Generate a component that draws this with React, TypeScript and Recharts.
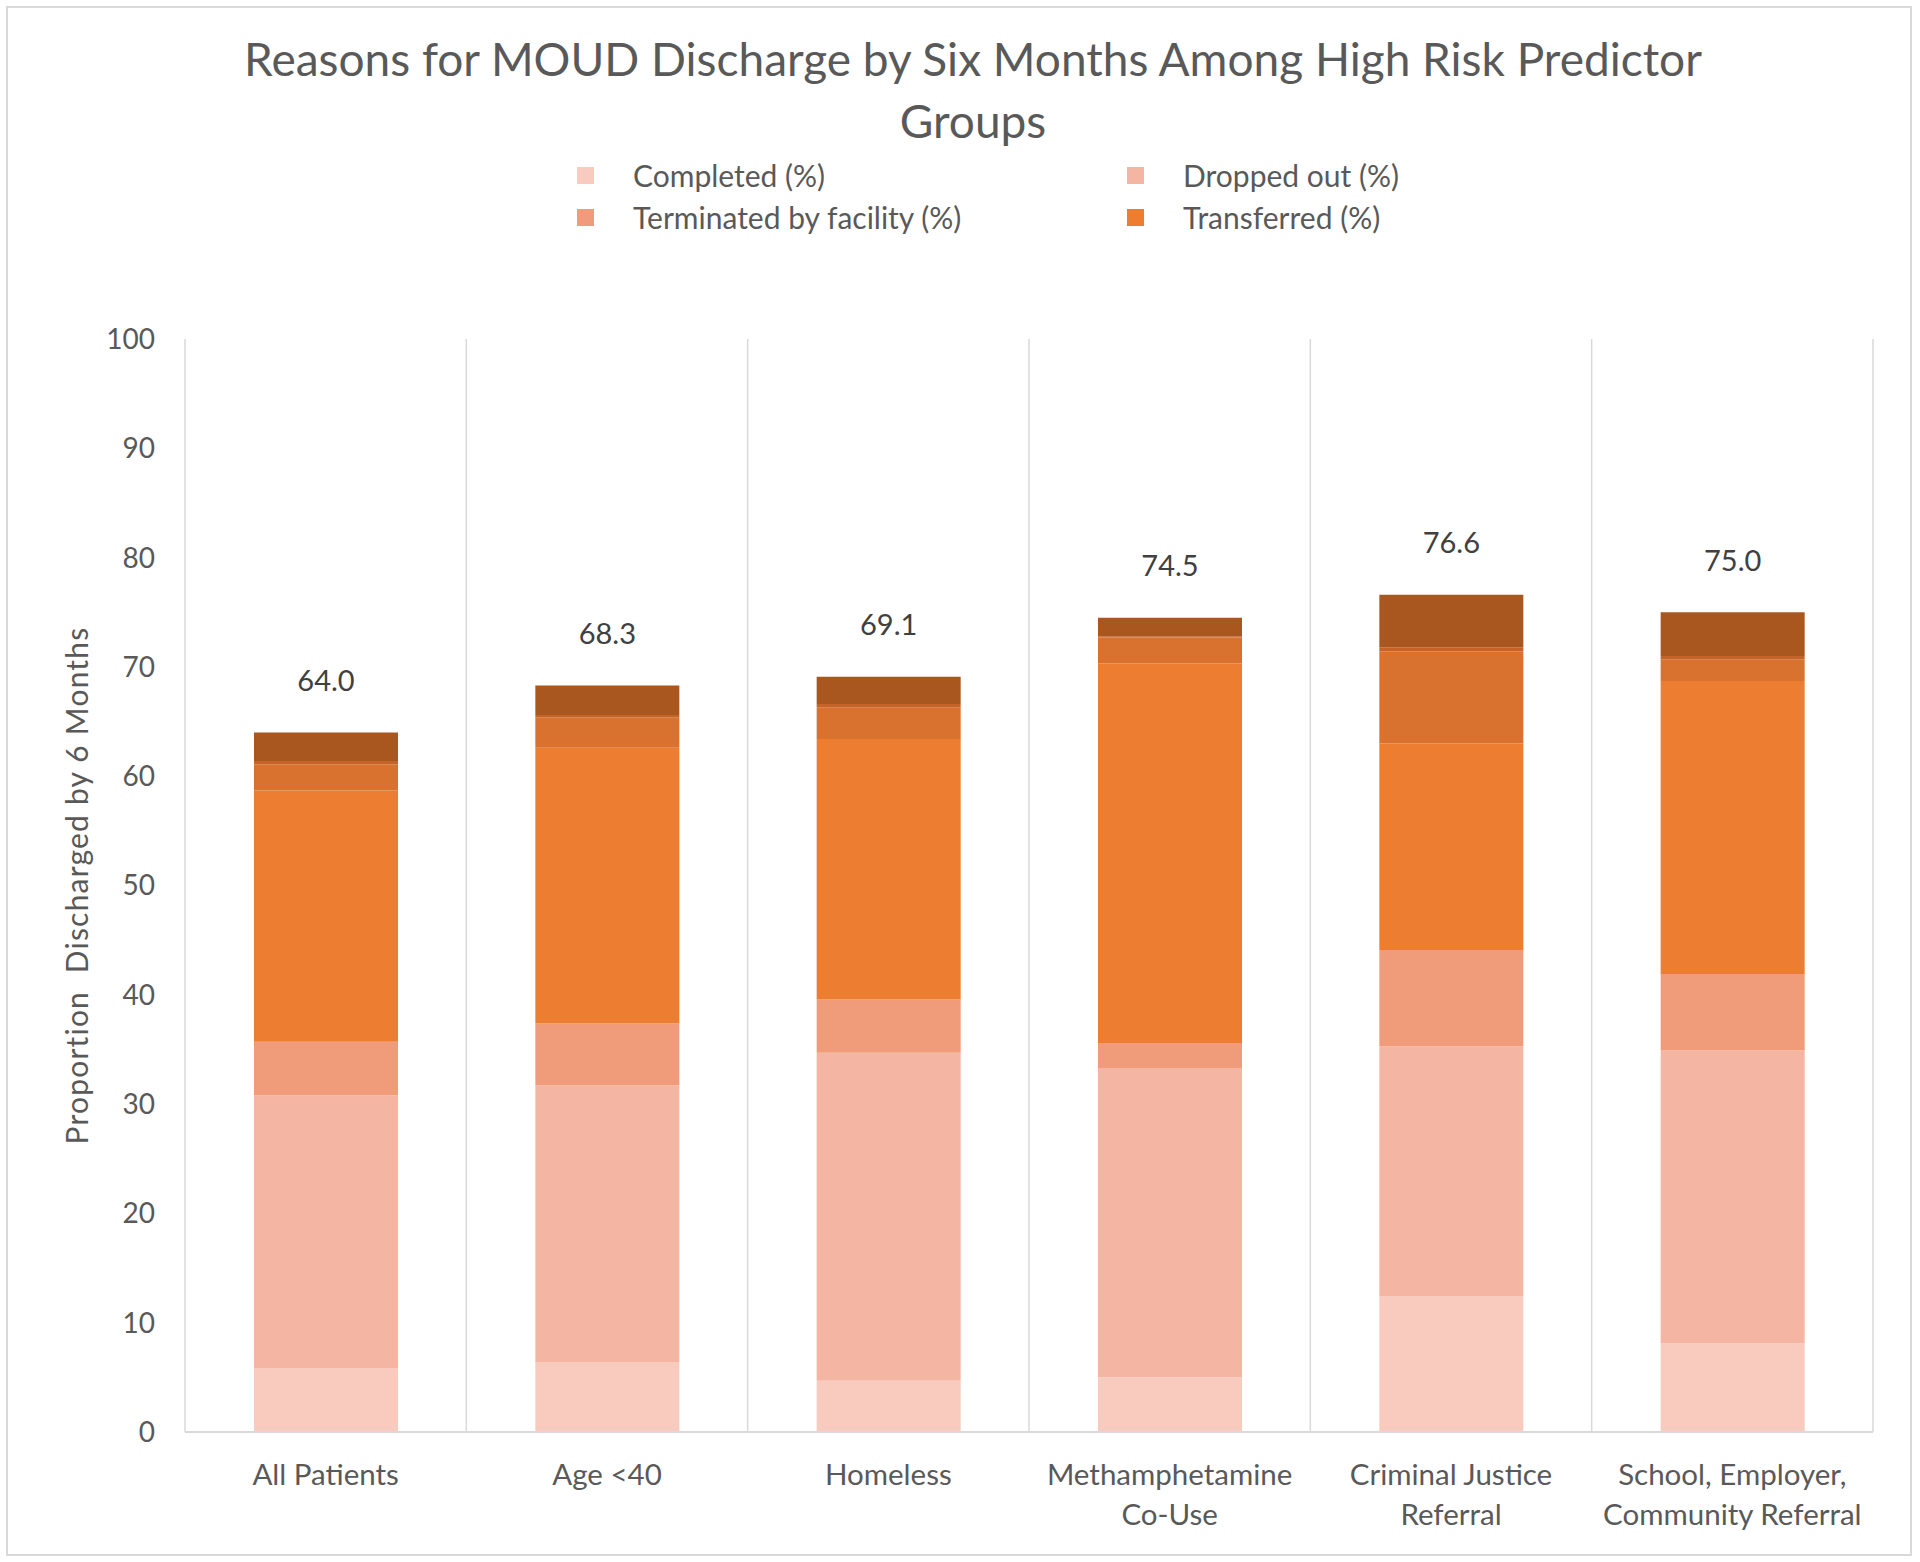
import React from 'react';
import { BarChart, Bar, XAxis, YAxis, CartesianGrid, Legend, LabelList } from 'recharts';

const categories = [
  'All Patients',
  'Age <40',
  'Homeless',
  'Methamphetamine\nCo-Use',
  'Criminal Justice\nReferral',
  'School, Employer,\nCommunity Referral',
];
const completed = [5.8, 6.4, 4.7, 5.0, 12.4, 8.1];
const droppedOut = [25.0, 25.3, 30.0, 28.3, 22.9, 26.8];
const terminated = [4.9, 5.7, 4.9, 2.3, 8.8, 7.0];
const transferred = [23.0, 25.2, 23.8, 34.7, 18.9, 26.8];
const incarcerated = [2.4, 2.8, 2.9, 2.4, 8.4, 2.0];
const deceased = [0.3, 0.2, 0.3, 0.1, 0.4, 0.3];
const other = [2.6, 2.7, 2.5, 1.7, 4.8, 4.0];
const totals = [64.0, 68.3, 69.1, 74.5, 76.6, 75.0];
const yTicks = [0, 10, 20, 30, 40, 50, 60, 70, 80, 90, 100];

const data = categories.map((c, i) => ({
  name: c,
  completed: completed[i],
  droppedOut: droppedOut[i],
  terminated: terminated[i],
  transferred: transferred[i],
  incarcerated: incarcerated[i],
  deceased: deceased[i],
  other: other[i],
  total: totals[i],
}));

const FONT = 'Lato, "Open Sans", sans-serif';
const TEXT = '#595959';

const XTick = (props: any) => {
  const { x, y, payload } = props;
  const lines = String(payload.value).split('\n');
  return (
    <text x={x} y={y} textAnchor="middle" fill={TEXT} fontSize={29.5} fontFamily={FONT}>
      {lines.map((l, i) => (
        <tspan key={i} x={x} dy={i === 0 ? 53 : 40}>
          {l}
        </tspan>
      ))}
    </text>
  );
};

const YLabel = (props: any) => {
  const vb = props.viewBox || {};
  const cy = vb.y + vb.height / 2;
  const cx = 68;
  return (
    <text
      x={cx}
      y={cy}
      transform={`rotate(-90, ${cx}, ${cy})`}
      textAnchor="middle"
      dominantBaseline="central"
      fill={TEXT}
      fontSize={30}
      fontFamily={FONT}
      style={{ whiteSpace: 'pre', letterSpacing: 1.2 }}
    >
      {'Proportion  Discharged by 6 Months'}
    </text>
  );
};

const TotalLabel = (props: any) => {
  const { x, y, width, value } = props;
  return (
    <text
      x={Number(x) + Number(width) / 2}
      y={Number(y) - 53}
      textAnchor="middle"
      dominantBaseline="central"
      fill="#404040"
      fontSize={29}
      fontFamily={FONT}
    >
      {Number(value).toFixed(1)}
    </text>
  );
};

const LegendContent = (props: any) => {
  const payload = (props.payload || []).filter((p: any) => p.type !== 'none');
  const cols = [569, 1119];
  const rows = [27, 69];
  return (
    <div style={{ position: 'relative', width: '100%', height: 100 }}>
      {payload.map((p: any, i: number) => (
        <div
          key={p.value}
          style={{
            position: 'absolute',
            left: cols[i % 2],
            top: rows[Math.floor(i / 2)] - 20,
            height: 40,
            display: 'flex',
            alignItems: 'center',
            whiteSpace: 'nowrap',
          }}
        >
          <span style={{ display: 'inline-block', width: 17, height: 17, background: p.color }} />
          <span style={{ marginLeft: 39, fontSize: 30, color: TEXT, fontFamily: FONT }}>{p.value}</span>
        </div>
      ))}
    </div>
  );
};

export default function App() {
  return (
    <div
      style={{
        position: 'absolute',
        left: 6,
        top: 6,
        width: 1902,
        height: 1546,
        border: '2px solid #D9D9D9',
        background: '#fff',
        fontFamily: FONT,
      }}
    >
      <div
        style={{
          position: 'absolute',
          left: 165,
          top: 20,
          width: 1600,
          textAlign: 'center',
          fontSize: 46,
          lineHeight: '62px',
          color: TEXT,
          fontFamily: FONT,
        }}
      >
        <div>Reasons for MOUD Discharge by Six Months Among High Risk Predictor</div>
        <div>Groups</div>
      </div>
      <BarChart
        width={1902}
        height={1546}
        data={data}
        margin={{ top: 331, right: 37, bottom: 22, left: 97 }}
        barSize={144}
      >
        <CartesianGrid
          horizontal={false}
          vertical
          stroke="#D9D9D9"
          strokeWidth={1.5}
          verticalCoordinatesGenerator={({ offset }: any) =>
            categories.map((_, i) => offset.left + (i * offset.width) / categories.length).concat([offset.left + offset.width])
          }
        />
        <XAxis
          dataKey="name"
          interval={0}
          height={100}
          tickLine={false}
          tickSize={0}
          tickMargin={0}
          axisLine={{ stroke: '#D9D9D9', strokeWidth: 2 }}
          tick={<XTick />}
        />
        <YAxis
          width={80}
          domain={[0, 100]}
          ticks={yTicks}
          interval={0}
          axisLine={false}
          tickLine={false}
          tickSize={0}
          tickMargin={30}
          tick={{ fill: TEXT, fontSize: 28, fontFamily: FONT }}
          label={<YLabel />}
        />
        <Legend
          layout="horizontal"
          verticalAlign="middle"
          align="center"
          wrapperStyle={{ top: 140, left: 0, width: 1902, height: 100 }}
          content={<LegendContent />}
        />
        <Bar dataKey="completed" name="Completed (%)" stackId="a" fill="#F8CBBE" isAnimationActive={false} />
        <Bar dataKey="droppedOut" name="Dropped out (%)" stackId="a" fill="#F4B6A3" isAnimationActive={false} />
        <Bar dataKey="terminated" name="Terminated by facility (%)" stackId="a" fill="#F09C7A" isAnimationActive={false} />
        <Bar dataKey="transferred" name="Transferred (%)" stackId="a" fill="#ED7D31" isAnimationActive={false} />
        <Bar dataKey="incarcerated" name="Incarcerated (%)" stackId="a" fill="#D9722E" legendType="none" isAnimationActive={false} />
        <Bar dataKey="deceased" name="Deceased (%)" stackId="a" fill="#C4642A" legendType="none" isAnimationActive={false} />
        <Bar dataKey="other" name="Other (%)" stackId="a" fill="#A9561F" legendType="none" isAnimationActive={false}>
          <LabelList dataKey="total" content={<TotalLabel />} />
        </Bar>
      </BarChart>
    </div>
  );
}
